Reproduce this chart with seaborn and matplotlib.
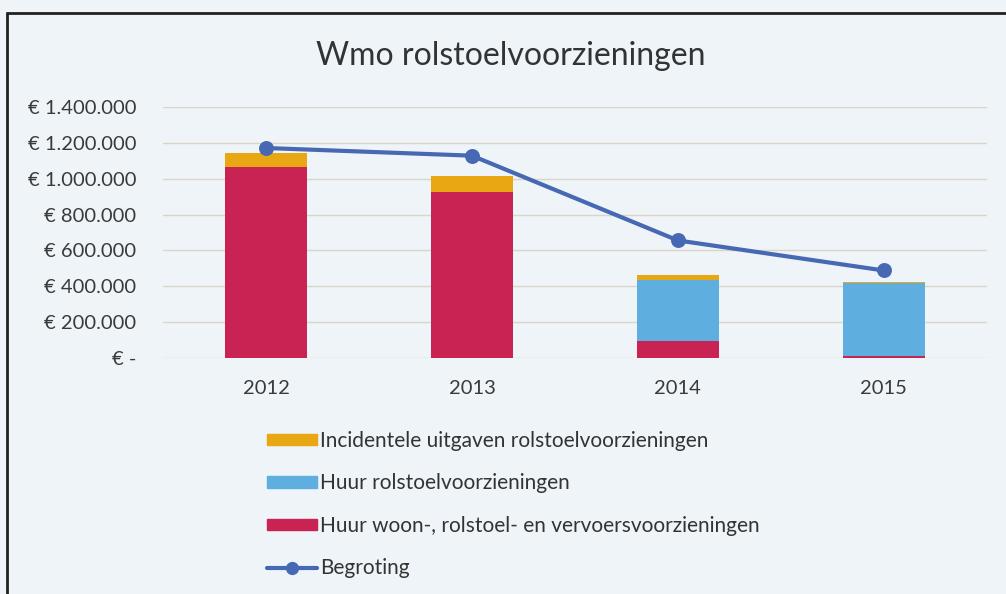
import matplotlib
matplotlib.use("Agg")
import matplotlib.pyplot as plt
import seaborn as sns
import pandas as pd
from matplotlib.patches import Patch
from matplotlib.lines import Line2D
from matplotlib.ticker import FuncFormatter

# Data
years = ["2012", "2013", "2014", "2015"]
huur_woon = [1066000, 924000, 95000, 8000]
huur_rolstoel = [0, 0, 340000, 410000]
incidenteel = [78000, 89000, 28000, 6000]
begroting = [1172000, 1129000, 655000, 487000]

labels = ["Incidentele uitgaven rolstoelvoorzieningen",
          "Huur rolstoelvoorzieningen",
          "Huur woon-, rolstoel- en vervoersvoorzieningen",
          "Begroting"]

c_yellow = "#e9a714"
c_blue = "#5eaee0"
c_red = "#c92353"
c_line = "#4768b2"
bg = "#eef4f8"

df = pd.DataFrame({"jaar": years, "red": huur_woon, "blue": huur_rolstoel,
                   "yellow": incidenteel, "begroting": begroting})
df["red_top"] = df["red"]
df["blue_top"] = df["red"] + df["blue"]
df["yellow_top"] = df["blue_top"] + df["yellow"]

sns.set_style("white")
plt.rcParams["font.family"] = ["Lato", "DejaVu Sans"]

fig = plt.figure(figsize=(10.06, 5.94), dpi=100, facecolor=bg, edgecolor=bg)
ax = fig.add_axes([0.162, 0.398, 0.819, 0.4215])
ax.set_facecolor(bg)

# stacked bars drawn as overlapping cumulative totals
for col, c in [("yellow_top", c_yellow), ("blue_top", c_blue), ("red_top", c_red)]:
    sns.barplot(data=df, x="jaar", y=col, color=c, width=0.4, saturation=1,
                linewidth=0, edgecolor=c, ax=ax, zorder=2)
sns.pointplot(data=df, x="jaar", y="begroting", color=c_line, markers="o",
              markersize=8.5, linewidth=3, ax=ax, zorder=3)

ax.set_ylim(0, 1400000)
ax.set_xlim(-0.5, 3.5)
ax.set_yticks(range(0, 1400001, 200000))


def euro(v, pos):
    if v == 0:
        return "€ -"
    return "€ " + "{:,.0f}".format(v).replace(",", ".")


ax.yaxis.set_major_formatter(FuncFormatter(euro))
ax.grid(axis="y", color="#d9d5c9", linewidth=1, zorder=0)
ax.set_axisbelow(True)
for s in ax.spines.values():
    s.set_visible(False)
ax.tick_params(axis="y", length=0, pad=19, labelsize=14.5, labelcolor="#3a3a3a")
ax.tick_params(axis="x", length=0, pad=16, labelsize=14.5, labelcolor="#3a3a3a")
ax.set_xlabel("")
ax.set_ylabel("")

fig.text(0.508, 0.905, "Wmo rolstoelvoorzieningen", ha="center", va="center",
         fontsize=23, color="#333333")

handles = [Patch(color=c_yellow), Patch(color=c_blue), Patch(color=c_red),
           Line2D([], [], color=c_line, linewidth=3, marker="o", markersize=8.5)]
fig.legend(handles, labels, loc="upper left", bbox_to_anchor=(0.255, 0.292),
           frameon=False, fontsize=15, handlelength=2.4, handleheight=0.45,
           handletextpad=0.15, labelspacing=1.08, borderpad=0,
           labelcolor="#333333")

# frame lines on top and left
fig.add_artist(Line2D([0.007, 0.007], [0.0, 0.978], transform=fig.transFigure,
                      color="#222222", linewidth=2))
fig.add_artist(Line2D([0.007, 1.0], [0.978, 0.978], transform=fig.transFigure,
                      color="#222222", linewidth=2))

fig.savefig("out.png", dpi=100, facecolor=bg, edgecolor=bg)
